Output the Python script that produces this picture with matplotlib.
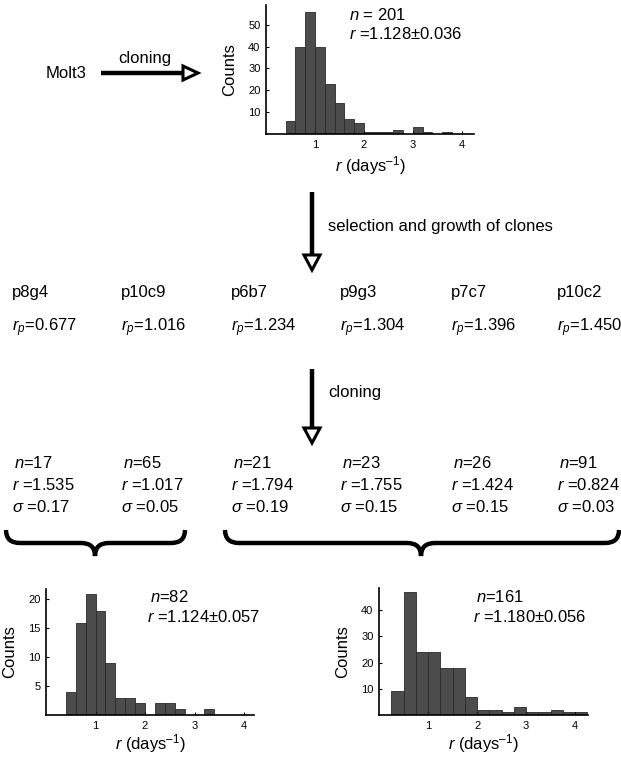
import numpy as np
import matplotlib
matplotlib.use("Agg")
import matplotlib.pyplot as plt
from matplotlib.path import Path
from matplotlib.patches import PathPatch, Polygon

plt.rcParams['font.family'] = ['Liberation Sans', 'DejaVu Sans']
plt.rcParams['mathtext.fontset'] = 'custom'
plt.rcParams['mathtext.rm'] = 'Liberation Sans'
plt.rcParams['mathtext.it'] = 'Liberation Sans:italic'

# ---- data ----
# top histogram (Molt3 clones), bins of 0.2
top_edges = np.arange(0.4, 3.81, 0.2)
top_counts = [6, 40, 56, 40, 23, 14, 7, 5, 1, 1, 1, 2, 0, 3, 1, 0, 1]
# bottom left (p8g4 + p10c9 subclones), bins of 0.2
bl_edges = np.arange(0.4, 3.41, 0.2)
bl_counts = [4, 16, 21, 18, 9, 3, 3, 2, 0, 2, 2, 1, 0, 0, 1]
# bottom right (p6b7, p9g3, p7c7, p10c2 subclones), bins of 0.25
br_edges = np.arange(0.25, 4.26, 0.25)
br_counts = [9, 47, 24, 24, 18, 18, 7, 2, 2, 1, 3, 1, 1, 2, 1, 1]

clones = ['p8g4', 'p10c9', 'p6b7', 'p9g3', 'p7c7', 'p10c2']
r_p = ['0.677', '1.016', '1.234', '1.304', '1.396', '1.450']
sub_n = ['17', '65', '21', '23', '26', '91']
sub_r = ['1.535', '1.017', '1.794', '1.755', '1.424', '0.824']
sub_sigma = ['0.17', '0.05', '0.19', '0.15', '0.15', '0.03']

W, H = 621, 757
fig = plt.figure(figsize=(W / 100, H / 100), dpi=100)
bg = fig.add_axes([0, 0, 1, 1])
bg.set_xlim(0, W)
bg.set_ylim(H, 0)
bg.axis('off')

FS = 12


def hist_axes(x0, x1, ytop, ybot, edges, counts, xmax, ymax, yticks, xpad):
    ax = fig.add_axes([x0 / W, 1 - ybot / H, (x1 - x0) / W, (ybot - ytop) / H])
    w = edges[1] - edges[0]
    ax.bar(edges[:len(counts)], counts, width=w, align='edge',
           color='#4c4c4c', edgecolor='#2a2a2a', linewidth=0.6)
    ax.set_xlim(0, xmax)
    ax.set_ylim(0, ymax)
    ax.set_xticks([1, 2, 3, 4])
    ax.set_yticks(yticks)
    for s in ['top', 'right']:
        ax.spines[s].set_visible(False)
    for s in ['left', 'bottom']:
        ax.spines[s].set_linewidth(1.2)
    ax.tick_params(direction='in', length=2.5, width=0.8, labelsize=8, pad=4)
    ax.set_xlabel('$r$ (days$^{\u2013 1}$)', fontsize=FS, labelpad=xpad)
    ax.set_ylabel('Counts', fontsize=FS, labelpad=8)
    ax.patch.set_alpha(0)
    return ax


hist_axes(266, 474, 5, 134, top_edges, top_counts, 4.25, 59, [10, 20, 30, 40, 50], 3)
hist_axes(46, 254, 589, 715, bl_edges, bl_counts, 4.2, 21.8, [5, 10, 15, 20], 1)
hist_axes(379, 588, 588, 715, br_edges, br_counts, 4.26, 48.4, [10, 20, 30, 40], 1)

# histogram annotations
bg.text(349, 15, '$n$ = 201', fontsize=FS, va='center')
bg.text(349, 34, '$r$ =1.128\u00b10.036', fontsize=FS, va='center')
bg.text(150, 597, '$n$=82', fontsize=FS, va='center')
bg.text(147, 617, '$r$ =1.124\u00b10.057', fontsize=FS, va='center')
bg.text(476, 597, '$n$=161', fontsize=FS, va='center')
bg.text(473, 617, '$r$ =1.180\u00b10.056', fontsize=FS, va='center')


def arrow(x0, y0, x1, y1, hl=15, hw=8):
    d = np.array([x1 - x0, y1 - y0], float)
    L = np.hypot(*d)
    u = d / L
    n = np.array([-u[1], u[0]])
    base = np.array([x1, y1]) - u * hl
    bg.plot([x0, base[0]], [y0, base[1]], color='black', lw=3.2, solid_capstyle='butt')
    tri = [base + n * hw, base - n * hw, [x1, y1]]
    bg.add_patch(Polygon(tri, closed=True, facecolor='white', edgecolor='black', lw=2.2,
                         joinstyle='miter'))


# Molt3 -> cloning
bg.text(46, 73, 'Molt3', fontsize=FS, va='center')
arrow(101, 73, 198, 73, hl=15, hw=7)
bg.text(118, 59, 'cloning', fontsize=FS, va='center')

# selection arrow
arrow(312, 192, 312, 270, hl=15, hw=8)
bg.text(328, 226, 'selection and growth of clones', fontsize=FS, va='center')

cols = [12, 121, 231, 340, 451, 557]
for x, name, rp in zip(cols, clones, r_p):
    bg.text(x, 293, name, fontsize=FS, va='center')
    bg.text(x, 328, '$r_p$=' + rp, fontsize=FS, va='center')

# cloning arrow
arrow(312, 369, 312, 443, hl=15, hw=8)
bg.text(328, 393, 'cloning', fontsize=FS, va='center')

for x, n, r, s in zip(cols, sub_n, sub_r, sub_sigma):
    bg.text(x + 2, 463, '$n$=' + n, fontsize=FS, va='center')
    bg.text(x, 485, '$r$ =' + r, fontsize=FS, va='center')
    bg.text(x, 507, '$\\sigma$ =' + s, fontsize=FS, va='center')


def brace(x0, x1, xm, ytop, ymid, ytip, rad=14):
    verts = [(x0, ytop), (x0, ymid), (x0 + rad, ymid),
             (xm - rad, ymid),
             (xm, ymid), (xm, ytip),
             (xm, ymid), (xm + rad, ymid),
             (x1 - rad, ymid),
             (x1, ymid), (x1, ytop)]
    codes = [Path.MOVETO, Path.CURVE3, Path.CURVE3,
             Path.LINETO,
             Path.CURVE3, Path.CURVE3,
             Path.CURVE3, Path.CURVE3,
             Path.LINETO,
             Path.CURVE3, Path.CURVE3]
    bg.add_patch(PathPatch(Path(verts, codes), facecolor='none', edgecolor='black',
                           lw=3.2, capstyle='butt'))


brace(6, 185, 95, 530, 543, 556)
brace(225, 619, 421, 530, 543, 556)

fig.savefig('out.png', dpi=100)
